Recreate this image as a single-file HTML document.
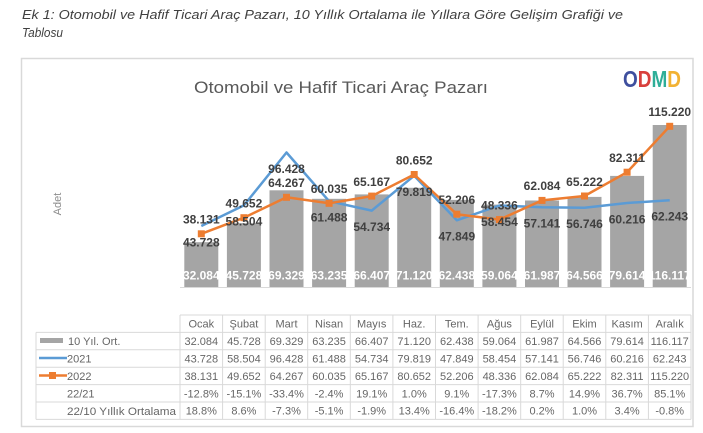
<!DOCTYPE html>
<html><head><meta charset="utf-8"><style>
html,body{margin:0;padding:0;background:#fff;}
svg{display:block;font-family:"Liberation Sans",sans-serif;}
</style></head><body>
<svg width="703" height="433" viewBox="0 0 703 433" xmlns="http://www.w3.org/2000/svg">
<rect x="0" y="0" width="703" height="433" fill="#fff"/>
<text x="22" y="19" font-size="13" font-style="italic" fill="#404040" textLength="601" lengthAdjust="spacingAndGlyphs">Ek 1: Otomobil ve Hafif Ticari Araç Pazarı, 10 Yıllık Ortalama ile Yıllara Göre Gelişim Grafiği ve</text>
<text x="22" y="37" font-size="13" font-style="italic" fill="#404040" textLength="41" lengthAdjust="spacingAndGlyphs">Tablosu</text>
<rect x="21.5" y="58.5" width="671.5" height="368" fill="#fff" stroke="#d9d9d9" stroke-width="1.5"/>
<text x="194" y="93" font-size="17" fill="#595959" textLength="294" lengthAdjust="spacingAndGlyphs">Otomobil ve Hafif Ticari Araç Pazarı</text>
<text x="623" y="87" font-size="23" font-weight="bold" textLength="58" lengthAdjust="spacingAndGlyphs"><tspan fill="#3e4f9e">O</tspan><tspan fill="#d8403c">D</tspan><tspan fill="#2fae98">M</tspan><tspan fill="#f2b233">D</tspan></text>
<text transform="translate(61,204) rotate(-90)" text-anchor="middle" font-size="11" fill="#8c8c8c">Adet</text>
<line x1="180" y1="287.5" x2="691" y2="287.5" stroke="#d9d9d9" stroke-width="1"/>
<g fill="#a5a5a5">
<rect x="184.3" y="242.2" width="34" height="44.8"/>
<rect x="226.9" y="223.2" width="34" height="63.8"/>
<rect x="269.5" y="190.3" width="34" height="96.7"/>
<rect x="312.1" y="198.8" width="34" height="88.2"/>
<rect x="354.7" y="194.4" width="34" height="92.6"/>
<rect x="397.2" y="187.8" width="34" height="99.2"/>
<rect x="439.8" y="199.9" width="34" height="87.1"/>
<rect x="482.4" y="204.6" width="34" height="82.4"/>
<rect x="525.0" y="200.5" width="34" height="86.5"/>
<rect x="567.5" y="196.9" width="34" height="90.1"/>
<rect x="610.1" y="175.9" width="34" height="111.1"/>
<rect x="652.7" y="125.0" width="34" height="162.0"/>
</g>
<g font-size="12" font-weight="bold" fill="#fff" text-anchor="middle">
<text x="201.3" y="279.5">32.084</text>
<text x="243.9" y="279.5">45.728</text>
<text x="286.5" y="279.5">69.329</text>
<text x="329.1" y="279.5">63.235</text>
<text x="371.7" y="279.5">66.407</text>
<text x="414.2" y="279.5">71.120</text>
<text x="456.8" y="279.5">62.438</text>
<text x="499.4" y="279.5">59.064</text>
<text x="542.0" y="279.5">61.987</text>
<text x="584.5" y="279.5">64.566</text>
<text x="627.1" y="279.5">79.614</text>
<text x="669.7" y="279.5">116.117</text>
</g>
<polyline fill="none" stroke="#5b9bd5" stroke-width="2.5" stroke-linejoin="round" points="201.3,226.0 243.9,205.4 286.5,152.5 329.1,201.2 371.7,210.6 414.2,175.7 456.8,220.3 499.4,205.5 542.0,207.3 584.5,207.8 627.1,203.0 669.7,200.2"/>
<polyline fill="none" stroke="#ed7d31" stroke-width="2.5" stroke-linejoin="round" points="201.3,233.8 243.9,217.7 286.5,197.3 329.1,203.3 371.7,196.1 414.2,174.5 456.8,214.2 499.4,219.6 542.0,200.4 584.5,196.0 627.1,172.2 669.7,126.3"/>
<g fill="#ed7d31">
<rect x="197.8" y="230.3" width="7" height="7"/>
<rect x="240.4" y="214.2" width="7" height="7"/>
<rect x="283.0" y="193.8" width="7" height="7"/>
<rect x="325.6" y="199.8" width="7" height="7"/>
<rect x="368.2" y="192.6" width="7" height="7"/>
<rect x="410.7" y="171.0" width="7" height="7"/>
<rect x="453.3" y="210.7" width="7" height="7"/>
<rect x="495.9" y="216.1" width="7" height="7"/>
<rect x="538.5" y="196.9" width="7" height="7"/>
<rect x="581.0" y="192.5" width="7" height="7"/>
<rect x="623.6" y="168.7" width="7" height="7"/>
<rect x="666.2" y="122.8" width="7" height="7"/>
</g>
<g font-size="12" font-weight="bold" fill="#404040" text-anchor="middle">
<text x="201.3" y="246.3">43.728</text>
<text x="243.9" y="225.7">58.504</text>
<text x="286.5" y="172.8">96.428</text>
<text x="329.1" y="221.5">61.488</text>
<text x="371.7" y="230.9">54.734</text>
<text x="414.2" y="196.0">79.819</text>
<text x="456.8" y="240.6">47.849</text>
<text x="499.4" y="225.8">58.454</text>
<text x="542.0" y="227.6">57.141</text>
<text x="584.5" y="228.1">56.746</text>
<text x="627.1" y="223.3">60.216</text>
<text x="669.7" y="220.5">62.243</text>
<text x="201.3" y="223.6">38.131</text>
<text x="243.9" y="207.5">49.652</text>
<text x="286.5" y="187.1">64.267</text>
<text x="329.1" y="193.1">60.035</text>
<text x="371.7" y="185.9">65.167</text>
<text x="414.2" y="164.3">80.652</text>
<text x="456.8" y="204.0">52.206</text>
<text x="499.4" y="209.4">48.336</text>
<text x="542.0" y="190.2">62.084</text>
<text x="584.5" y="185.8">65.222</text>
<text x="627.1" y="162.0">82.311</text>
<text x="669.7" y="116.1">115.220</text>
</g>
<g stroke="#d9d9d9" stroke-width="1" fill="none">
<line x1="180" y1="315" x2="691" y2="315"/>
<line x1="36" y1="332.4" x2="691" y2="332.4"/>
<line x1="36" y1="349.8" x2="691" y2="349.8"/>
<line x1="36" y1="367.2" x2="691" y2="367.2"/>
<line x1="36" y1="384.6" x2="691" y2="384.6"/>
<line x1="36" y1="402" x2="691" y2="402"/>
<line x1="36" y1="419.4" x2="691" y2="419.4"/>
<line x1="36" y1="332.4" x2="36" y2="419.4"/>
<line x1="180" y1="315" x2="180" y2="419.4"/>
<line x1="222.6" y1="315" x2="222.6" y2="419.4"/>
<line x1="265.2" y1="315" x2="265.2" y2="419.4"/>
<line x1="307.7" y1="315" x2="307.7" y2="419.4"/>
<line x1="350.3" y1="315" x2="350.3" y2="419.4"/>
<line x1="392.9" y1="315" x2="392.9" y2="419.4"/>
<line x1="435.5" y1="315" x2="435.5" y2="419.4"/>
<line x1="478.1" y1="315" x2="478.1" y2="419.4"/>
<line x1="520.7" y1="315" x2="520.7" y2="419.4"/>
<line x1="563.2" y1="315" x2="563.2" y2="419.4"/>
<line x1="605.8" y1="315" x2="605.8" y2="419.4"/>
<line x1="648.4" y1="315" x2="648.4" y2="419.4"/>
<line x1="691" y1="315" x2="691" y2="419.4"/>
</g>
<rect x="40" y="338" width="23" height="5" fill="#a5a5a5"/>
<line x1="39" y1="358" x2="67" y2="358" stroke="#5b9bd5" stroke-width="2.5"/>
<line x1="39" y1="375.5" x2="67" y2="375.5" stroke="#ed7d31" stroke-width="2.5"/>
<rect x="49" y="372" width="7" height="7" fill="#ed7d31"/>
<g font-size="11" fill="#666">
<text x="68" y="345">10 Yıl. Ort.</text>
<text x="67" y="362.5">2021</text>
<text x="67" y="380">2022</text>
<text x="67" y="397.4">22/21</text>
<text x="67" y="414.8" textLength="109" lengthAdjust="spacingAndGlyphs">22/10 Yıllık Ortalama</text>
</g>
<g font-size="11" fill="#666" text-anchor="middle">
<text x="201.3" y="327.7">Ocak</text><text x="243.9" y="327.7">Şubat</text><text x="286.5" y="327.7">Mart</text><text x="329.1" y="327.7">Nisan</text><text x="371.7" y="327.7">Mayıs</text><text x="414.2" y="327.7">Haz.</text><text x="456.8" y="327.7">Tem.</text><text x="499.4" y="327.7">Ağus</text><text x="542.0" y="327.7">Eylül</text><text x="584.5" y="327.7">Ekim</text><text x="627.1" y="327.7">Kasım</text><text x="669.7" y="327.7">Aralık</text>
<text x="201.3" y="345.1">32.084</text><text x="243.9" y="345.1">45.728</text><text x="286.5" y="345.1">69.329</text><text x="329.1" y="345.1">63.235</text><text x="371.7" y="345.1">66.407</text><text x="414.2" y="345.1">71.120</text><text x="456.8" y="345.1">62.438</text><text x="499.4" y="345.1">59.064</text><text x="542.0" y="345.1">61.987</text><text x="584.5" y="345.1">64.566</text><text x="627.1" y="345.1">79.614</text><text x="669.7" y="345.1">116.117</text>
<text x="201.3" y="362.5">43.728</text><text x="243.9" y="362.5">58.504</text><text x="286.5" y="362.5">96.428</text><text x="329.1" y="362.5">61.488</text><text x="371.7" y="362.5">54.734</text><text x="414.2" y="362.5">79.819</text><text x="456.8" y="362.5">47.849</text><text x="499.4" y="362.5">58.454</text><text x="542.0" y="362.5">57.141</text><text x="584.5" y="362.5">56.746</text><text x="627.1" y="362.5">60.216</text><text x="669.7" y="362.5">62.243</text>
<text x="201.3" y="379.9">38.131</text><text x="243.9" y="379.9">49.652</text><text x="286.5" y="379.9">64.267</text><text x="329.1" y="379.9">60.035</text><text x="371.7" y="379.9">65.167</text><text x="414.2" y="379.9">80.652</text><text x="456.8" y="379.9">52.206</text><text x="499.4" y="379.9">48.336</text><text x="542.0" y="379.9">62.084</text><text x="584.5" y="379.9">65.222</text><text x="627.1" y="379.9">82.311</text><text x="669.7" y="379.9">115.220</text>
<text x="201.3" y="397.3">-12.8%</text><text x="243.9" y="397.3">-15.1%</text><text x="286.5" y="397.3">-33.4%</text><text x="329.1" y="397.3">-2.4%</text><text x="371.7" y="397.3">19.1%</text><text x="414.2" y="397.3">1.0%</text><text x="456.8" y="397.3">9.1%</text><text x="499.4" y="397.3">-17.3%</text><text x="542.0" y="397.3">8.7%</text><text x="584.5" y="397.3">14.9%</text><text x="627.1" y="397.3">36.7%</text><text x="669.7" y="397.3">85.1%</text>
<text x="201.3" y="414.7">18.8%</text><text x="243.9" y="414.7">8.6%</text><text x="286.5" y="414.7">-7.3%</text><text x="329.1" y="414.7">-5.1%</text><text x="371.7" y="414.7">-1.9%</text><text x="414.2" y="414.7">13.4%</text><text x="456.8" y="414.7">-16.4%</text><text x="499.4" y="414.7">-18.2%</text><text x="542.0" y="414.7">0.2%</text><text x="584.5" y="414.7">1.0%</text><text x="627.1" y="414.7">3.4%</text><text x="669.7" y="414.7">-0.8%</text>
</g>
</svg>
</body></html>
